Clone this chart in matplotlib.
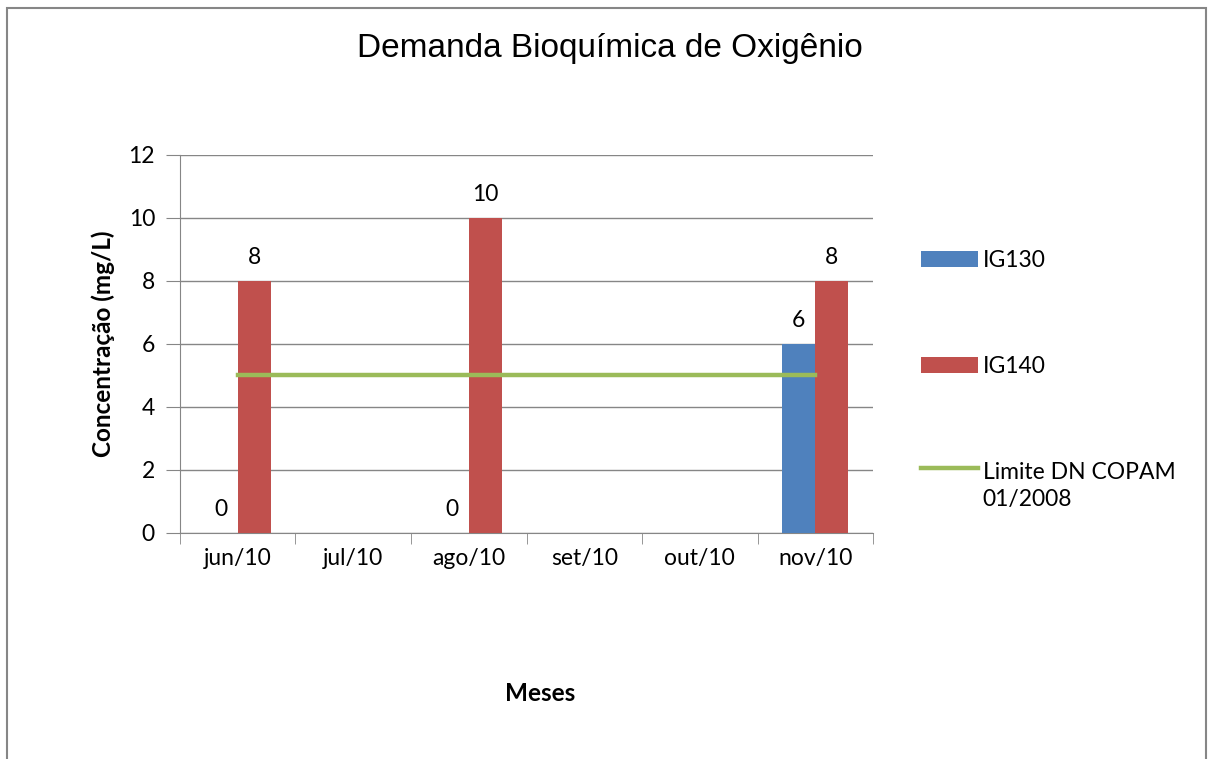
import matplotlib
matplotlib.use("Agg")
import matplotlib.pyplot as plt
import numpy as np
from matplotlib.patches import Rectangle
from matplotlib.legend_handler import HandlerLine2D

# Dados
meses = ["jun/10", "jul/10", "ago/10", "set/10", "out/10", "nov/10"]
ig130 = [0, None, 0, None, None, 6]
ig140 = [8, None, 10, None, None, 8]
limite = [5, 5, 5, 5, 5, 5]
yticks = [0, 2, 4, 6, 8, 10, 12]

azul = "#4F81BD"
vermelho = "#C0504D"
verde = "#9BBB59"
fonte = "Lato"
fs = 16.5


class LinhaTopo(HandlerLine2D):
    # alinha a linha da legenda com a primeira linha do texto
    def create_artists(self, legend, orig_handle, xdescent, ydescent, width, height,
                       fontsize, trans):
        arts = super().create_artists(legend, orig_handle, xdescent, ydescent, width,
                                      height, fontsize, trans)
        for a in arts:
            a.set_ydata(np.asarray(a.get_ydata()) + 0.8 * fontsize)
        return arts


fig = plt.figure(figsize=(12.08, 7.59), dpi=100)
ax = fig.add_axes([0.149, 0.2978, 0.5737, 0.498])

x = np.arange(len(meses))
w = 0.286

v130 = [np.nan if v is None else v for v in ig130]
v140 = [np.nan if v is None else v for v in ig140]
b1 = ax.bar(x - w / 2, v130, w, color=azul, label="IG130", zorder=3)
b2 = ax.bar(x + w / 2, v140, w, color=vermelho, label="IG140", zorder=3)
ln, = ax.plot(x, limite, color=verde, lw=3.2, label="Limite DN COPAM\n01/2008", zorder=4)

# rótulos de dados
for xs, vals in [(x - w / 2, ig130), (x + w / 2, ig140)]:
    for xi, v in zip(xs, vals):
        if v is not None:
            ax.annotate(str(v), (xi, v), xytext=(0, 9), textcoords="offset points",
                        ha="center", va="bottom", fontsize=fs, family=fonte)

ax.set_xlim(-0.5, len(meses) - 0.5)
ax.set_ylim(0, 12)
ax.set_yticks(yticks)
ax.set_yticklabels([str(t) for t in yticks], family=fonte, fontsize=fs)
ax.set_xticks(x)
ax.set_xticklabels(meses, family=fonte, fontsize=fs)
ax.set_xticks(np.arange(len(meses) + 1) - 0.5, minor=True)
ax.tick_params(axis="x", which="major", length=0, pad=11)
ax.tick_params(axis="x", which="minor", length=8, color="#868686", direction="out")
ax.tick_params(axis="y", length=10, color="#868686", direction="out", pad=8)

ax.grid(axis="y", color="#868686", lw=1, zorder=0)
for s in ["top", "right"]:
    ax.spines[s].set_visible(False)
for s in ["left", "bottom"]:
    ax.spines[s].set_color("#868686")

ax.set_ylabel("Concentração (mg/L)", fontsize=17.5, fontweight="bold", family=fonte, labelpad=10)
fig.text(0.447, 0.0764, "Meses", fontsize=17.5, fontweight="bold", family=fonte, ha="center")
fig.text(0.505, 0.936, "Demanda Bioquímica de Oxigênio", fontsize=24,
         family="Liberation Sans", ha="center", va="center")

leg = ax.legend(handles=[b1, b2, ln], loc="upper left", bbox_to_anchor=(1.039, 0.803),
                frameon=False, prop={"family": fonte, "size": fs}, handlelength=2.5,
                handletextpad=0.2, labelspacing=3.7,
                handler_map={ln: LinhaTopo()})
leg.get_texts()[2].set_linespacing(1.4)

# borda da figura
fig.patches.append(Rectangle((0.006, -0.1), 0.992, 1.09, transform=fig.transFigure,
                             fill=False, edgecolor="#868686", lw=1.5))

fig.savefig("out.png", dpi=100)
